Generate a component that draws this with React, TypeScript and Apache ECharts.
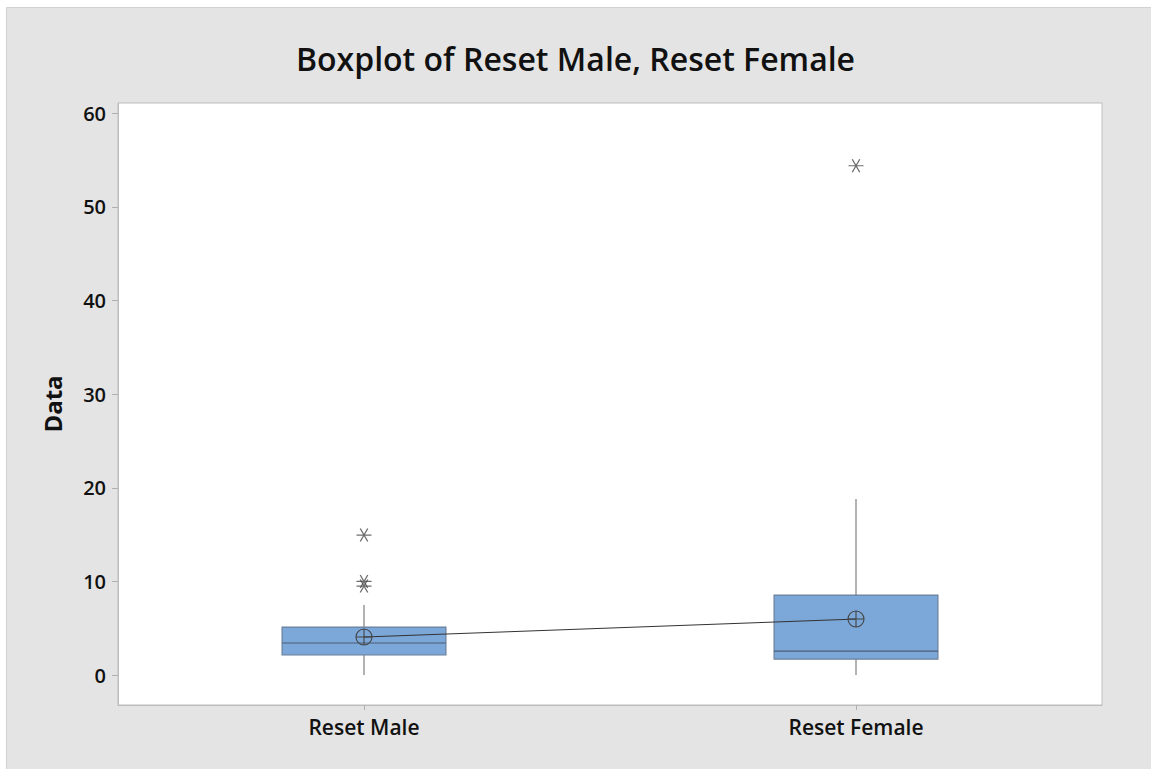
import React, { useEffect, useRef } from "react";
import * as echarts from "echarts";

// Categories and summary statistics per group: [min whisker, Q1, median, Q3, max whisker]
const categories = ["Reset Male", "Reset Female"];
const maleBox = [0, 2.14, 3.42, 5.12, 7.47];
const femaleBox = [0, 1.71, 2.56, 8.54, 18.8];
const means = [4.06, 5.98];
const maleOutliers = [14.95, 10.0, 9.5];
const femaleOutliers = [54.4];
const yTicks = [0, 10, 20, 30, 40, 50, 60];
const yMin = -3.2;
const yMax = 61.1;

const FONT = "'Open Sans', 'Noto Sans', sans-serif";

const ASTERISK = "path://M0,5L10,5M2.5,0.67L7.5,9.33M7.5,0.67L2.5,9.33";
const CIRCLE_PLUS =
  "path://M0,8A8,8 0 1,1 16,8A8,8 0 1,1 0,8ZM8,0L8,16M0,8L16,8";

export default function App() {
  const ref = useRef<HTMLDivElement>(null);

  useEffect(() => {
    if (!ref.current) return;
    const chart = echarts.init(ref.current, null, { renderer: "svg" });

    const boxRows = [maleBox, femaleBox].map((b, i) => [i, ...b]);
    const outlierPoints: number[][] = [];
    maleOutliers.forEach((v) => outlierPoints.push([0, v]));
    femaleOutliers.forEach((v) => outlierPoints.push([1, v]));

    chart.setOption({
      animation: false,
      backgroundColor: "#ffffff",
      graphic: [
        {
          type: "rect",
          z: -10,
          silent: true,
          shape: { x: 6.5, y: 7.5, width: 1150, height: 770 },
          style: { fill: "#e4e4e4", stroke: "#d2d2d2", lineWidth: 1 },
        },
      ],
      title: {
        text: "Boxplot of Reset Male, Reset Female",
        left: "center",
        top: 37,
        textStyle: {
          fontFamily: FONT,
          fontSize: 32,
          fontWeight: 600,
          color: "#111111",
        },
      },
      grid: {
        left: 118,
        top: 103,
        right: 49,
        bottom: 64,
        show: true,
        backgroundColor: "#ffffff",
        borderColor: "#bdbdbd",
        borderWidth: 1,
      },
      xAxis: {
        type: "category",
        data: categories,
        boundaryGap: true,
        axisLine: { show: true, onZero: false, lineStyle: { color: "#bdbdbd" } },
        axisTick: {
          show: true,
          alignWithLabel: true,
          length: 5,
          lineStyle: { color: "#b0b0b0" },
        },
        axisLabel: {
          margin: 11,
          fontFamily: FONT,
          fontSize: 21,
          fontWeight: 600,
          color: "#111111",
        },
        splitLine: { show: false },
      },
      yAxis: {
        type: "value",
        min: yMin,
        max: yMax,
        name: "Data",
        nameLocation: "middle",
        nameGap: 54,
        nameTextStyle: {
          fontFamily: FONT,
          fontSize: 24,
          fontWeight: 700,
          color: "#111111",
        },
        axisLine: { show: true, lineStyle: { color: "#bdbdbd" } },
        axisTick: {
          show: true,
          length: 6,
          customValues: yTicks,
          lineStyle: { color: "#b0b0b0" },
        },
        axisLabel: {
          customValues: yTicks,
          margin: 12,
          fontFamily: FONT,
          fontSize: 20,
          fontWeight: 600,
          color: "#111111",
        },
        splitLine: { show: false },
      },
      series: [
        {
          type: "custom",
          data: boxRows,
          encode: { x: 0, y: [1, 2, 3, 4, 5] },
          renderItem: (params: any, api: any) => {
            const cat = api.value(0);
            const vals = [1, 2, 3, 4, 5].map((d) => api.value(d));
            const pts = vals.map((v) => api.coord([cat, v]));
            const cx = pts[0][0];
            const half = (api.size([1, 0])[0] * 0.333) / 2;
            const yMinP = pts[0][1];
            const yQ1 = pts[1][1];
            const yMed = pts[2][1];
            const yQ3 = pts[3][1];
            const yMaxP = pts[4][1];
            const whisker = { stroke: "#9a9a9a", lineWidth: 1.5 };
            return {
              type: "group",
              children: [
                {
                  type: "line",
                  shape: { x1: cx, y1: yMinP, x2: cx, y2: yQ1 },
                  style: whisker,
                },
                {
                  type: "line",
                  shape: { x1: cx, y1: yQ3, x2: cx, y2: yMaxP },
                  style: whisker,
                },
                {
                  type: "rect",
                  shape: { x: cx - half, y: yQ3, width: half * 2, height: yQ1 - yQ3 },
                  style: { fill: "#7ba7d9", stroke: "#6a7f99", lineWidth: 1.2 },
                },
                {
                  type: "line",
                  shape: { x1: cx - half, y1: yMed, x2: cx + half, y2: yMed },
                  style: { stroke: "#4d5e74", lineWidth: 1.2 },
                },
              ],
            };
          },
          z: 2,
        },
        {
          type: "scatter",
          data: outlierPoints,
          symbol: ASTERISK,
          symbolSize: [15, 13],
          itemStyle: {
            color: "rgba(0,0,0,0)",
            borderColor: "#4a4a4a",
            borderWidth: 1.2,
          },
          z: 3,
        },
        {
          type: "line",
          data: means,
          symbol: CIRCLE_PLUS,
          symbolSize: 16,
          showSymbol: true,
          lineStyle: { color: "#333333", width: 1 },
          itemStyle: {
            color: "rgba(0,0,0,0)",
            borderColor: "#444444",
            borderWidth: 1.1,
          },
          z: 4,
        },
      ],
    });

    return () => chart.dispose();
  }, []);

  return (
    <div
      ref={ref}
      style={{ position: "fixed", left: 0, top: 0, width: 1151, height: 769 }}
    />
  );
}
